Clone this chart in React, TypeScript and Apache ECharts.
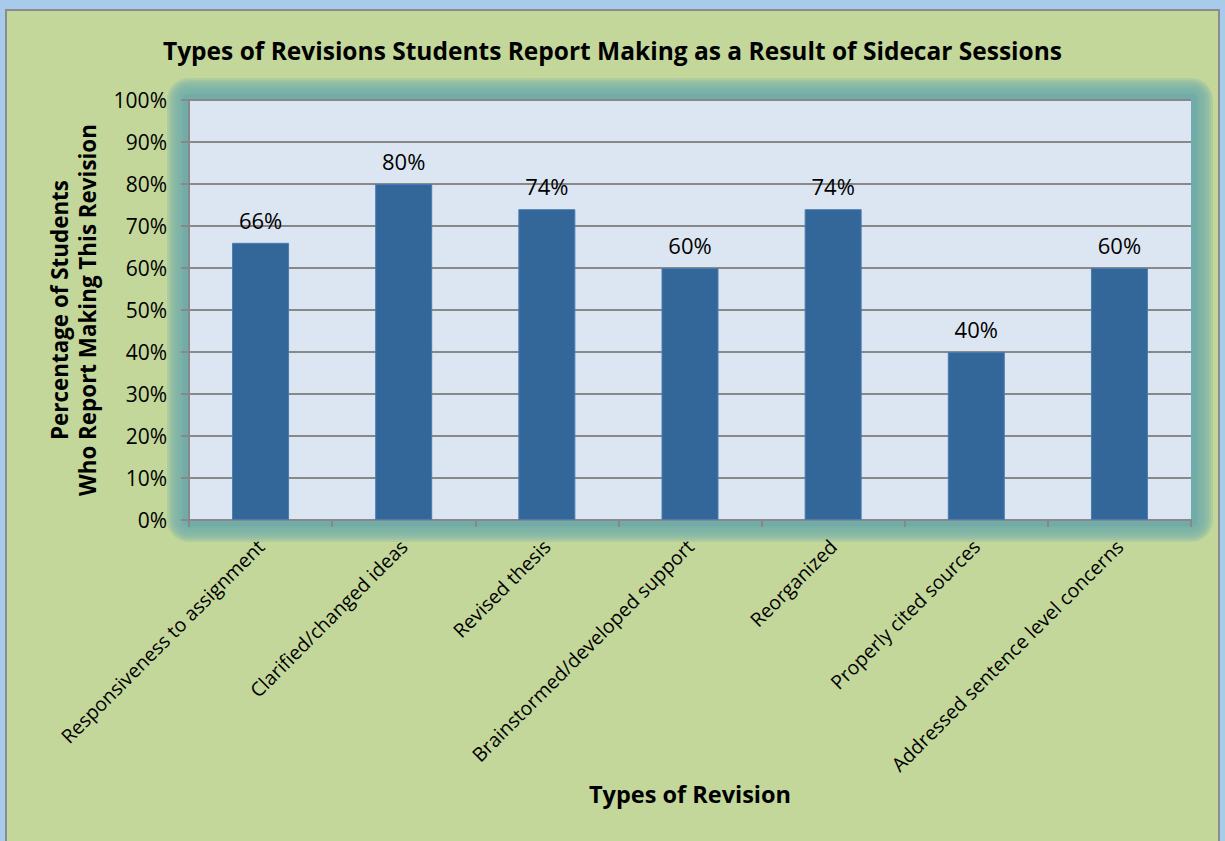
import React, { useEffect, useRef } from "react";
import * as echarts from "echarts";

const categories = [
  "Responsiveness to assignment",
  "Clarified/changed ideas",
  "Revised thesis",
  "Brainstormed/developed support",
  "Reorganized",
  "Properly cited sources",
  "Addressed sentence level concerns",
];
const values = [66, 80, 74, 60, 74, 40, 60];
const titleText = "Types of Revisions Students Report Making as a Result of Sidecar Sessions";
const yAxisTitle = "Percentage of Students\nWho Report Making This Revision";
const xAxisTitle = "Types of Revision";

const FONT = "'Open Sans', sans-serif";
const G = { left: 189, top: 100, width: 1002, height: 420 };

function glowLayers() {
  const out: any[] = [];
  for (let d = 22; d >= 8; d -= 2) {
    out.push({
      type: "rect",
      z: -9,
      silent: true,
      shape: { x: G.left - d, y: G.top - d, width: G.width + 2 * d, height: G.height + 2 * d, r: d },
      style: { fill: "rgba(114,172,169,0.26)" },
    });
  }
  out.push({
    type: "rect",
    z: -9,
    silent: true,
    shape: { x: G.left - 6, y: G.top - 6, width: G.width + 12, height: G.height + 12, r: 5 },
    style: { fill: "#72aca9" },
  });
  return out;
}

export default function App() {
  const ref = useRef<HTMLDivElement>(null);
  useEffect(() => {
    document.body.style.margin = "0";
    const chart = echarts.init(ref.current!, null, { renderer: "svg" });
    chart.setOption({
      animation: false,
      backgroundColor: "#a9cbeb",
      graphic: [
        {
          type: "rect",
          z: -10,
          shape: { x: 6, y: 10, width: 1213, height: 840 },
          style: { fill: "#c4d79b", stroke: "#8c8c8c", lineWidth: 2 },
        },
        ...glowLayers(),
        {
          type: "rect",
          z: -8,
          shape: { x: G.left, y: G.top, width: G.width, height: G.height },
          style: { fill: "#dce6f2" },
        },
      ],
      title: {
        text: titleText,
        left: "center",
        top: 33,
        textStyle: { fontFamily: FONT, fontSize: 24.5, fontWeight: "bold", color: "#000" },
      },
      grid: {
        left: G.left,
        right: 1225 - G.left - G.width,
        top: G.top,
        bottom: 841 - G.top - G.height,
      },
      xAxis: {
        type: "category",
        data: categories,
        name: xAxisTitle,
        nameLocation: "middle",
        nameGap: 262,
        nameTextStyle: { fontFamily: FONT, fontSize: 23.5, fontWeight: "bold", color: "#000" },
        axisLine: { lineStyle: { color: "#888", width: 2 } },
        axisTick: { show: true, length: 7, lineStyle: { color: "#888", width: 2 } },
        axisLabel: {
          rotate: 45,
          interval: 0,
          margin: 23,
          fontFamily: FONT,
          fontSize: 19.5,
          color: "#000",
        },
      },
      yAxis: {
        type: "value",
        min: 0,
        max: 100,
        interval: 10,
        name: yAxisTitle,
        nameLocation: "middle",
        nameGap: 88,
        nameTextStyle: { fontFamily: FONT, fontSize: 22.4, fontWeight: "bold", color: "#000", lineHeight: 28 },
        axisLine: { show: true, lineStyle: { color: "#888", width: 2 } },
        axisTick: { show: true, length: 8, lineStyle: { color: "#888", width: 2 } },
        splitLine: { lineStyle: { color: "#888", width: 2 } },
        axisLabel: {
          formatter: "{value}%",
          margin: 22,
          fontFamily: FONT,
          fontSize: 21,
          color: "#000",
        },
      },
      series: [
        {
          type: "bar",
          data: values,
          barWidth: 57,
          itemStyle: { color: "#336699", borderColor: "#4a7cb0", borderWidth: 1 },
          label: {
            show: true,
            position: "top",
            distance: 12,
            formatter: "{c}%",
            fontFamily: FONT,
            fontSize: 22,
            color: "#000",
          },
        },
      ],
    });
    return () => chart.dispose();
  }, []);
  return <div ref={ref} style={{ width: 1225, height: 841 }} />;
}
